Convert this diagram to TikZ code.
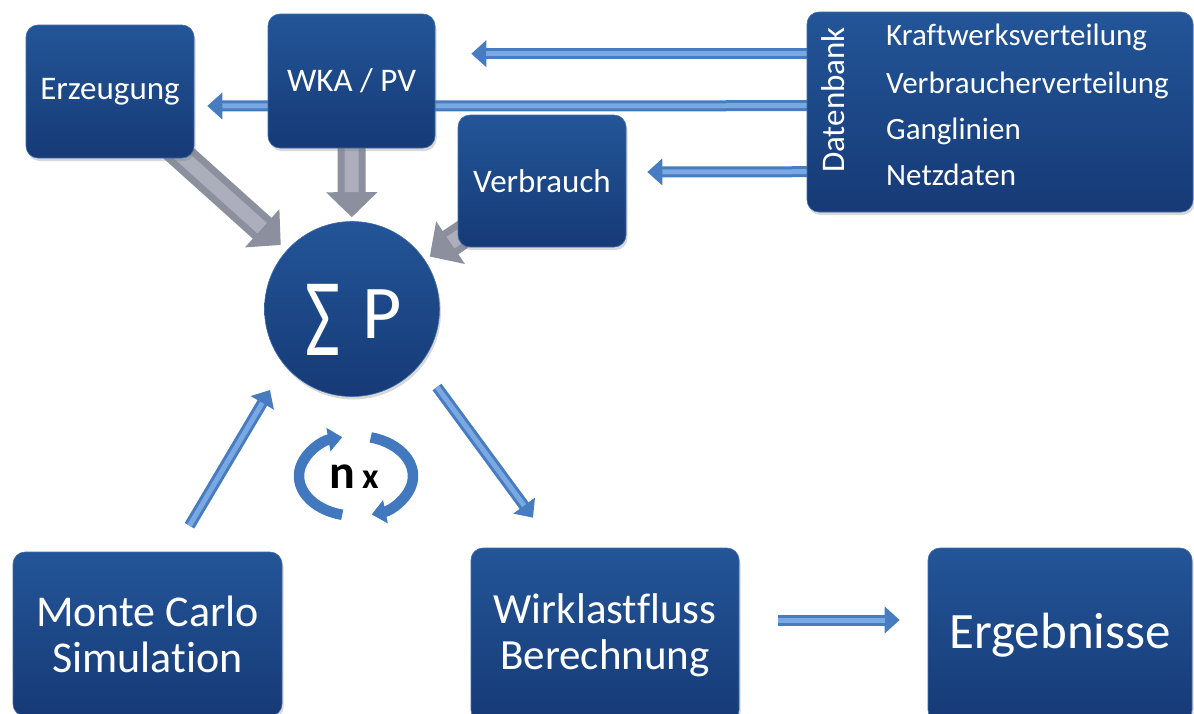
\documentclass[tikz,border=0pt]{standalone}
\usepackage{fontspec}
\setmainfont{Carlito}[Ligatures=NoCommon]
\usepackage{graphicx}
\usetikzlibrary{arrows.meta,calc,shadows}

\definecolor{boxtop}{RGB}{35,85,152}
\definecolor{boxbot}{RGB}{22,58,118}
\definecolor{boxedge}{RGB}{62,108,172}
\definecolor{arrblue}{RGB}{72,124,192}
\definecolor{arrhi}{RGB}{122,168,226}
\definecolor{arrgray}{RGB}{140,143,158}
\definecolor{grayhi}{RGB}{172,174,188}
\definecolor{loopblue}{RGB}{66,120,190}

\pgfdeclarelayer{back}
\pgfsetlayers{back,main}

\tikzset{
  panel/.style={rounded corners=12pt, top color=boxtop, bottom color=boxbot,
    draw=boxedge, line width=0.6pt, text=white, align=center, inner sep=0pt,
    drop shadow={shadow xshift=1.5pt, shadow yshift=-3pt, opacity=0.3}},
  hub/.style={circle, minimum size=175pt, top color=boxtop, bottom color=boxbot,
    draw=boxedge, line width=0.6pt, inner sep=0pt,
    drop shadow={shadow xshift=1.5pt, shadow yshift=-3pt, opacity=0.3}},
  bluearrow/.style={draw=arrblue, line width=11pt,
    -{Triangle[width=26pt,length=15pt]},
    postaction={draw=arrhi, line width=5pt, -, shorten >=15pt}},
  grayarrow/.style={draw=arrgray, line width=28pt, shorten >=#1,
    -{Triangle[width=50pt,length=25pt]},
    postaction={draw=grayhi, line width=14pt, -, shorten >=#1+25pt}},
  looparrow/.style={draw=loopblue, line width=10.5pt,
    -{Triangle[width=23pt,length=14pt]}},
  dbitem/.style={anchor=base west, text=white, inner sep=0pt,
    font=\fontsize{31}{37}\selectfont},
  boxfont/.style={font=\fontsize{33}{39}\selectfont},
}

\begin{document}
\begin{tikzpicture}[x=1pt,y=-1pt]
\useasboundingbox (0,0) rectangle (1194,713);

% boxes of the model
\node[panel, boxfont, minimum width=168pt, minimum height=133pt]
  (erz) at (110,91.5) {Erzeugung};
\node[panel, boxfont, minimum width=167pt, minimum height=134pt]
  (wka) at (351.5,81) {WKA / PV};
\node[panel, boxfont, minimum width=168pt, minimum height=132pt]
  (verb) at (542,181) {Verbrauch};
\node[panel, minimum width=386pt, minimum height=200pt] (db) at (1000,112) {};
\node[hub] (sum) at (352,309) {};
\node[panel, minimum width=269pt, minimum height=164pt,
      font=\fontsize{44}{46}\selectfont] (mc) at (147.5,634) {Monte Carlo\\Simulation};
\node[panel, minimum width=268pt, minimum height=174pt,
      font=\fontsize{43}{46}\selectfont] (wirk) at (605,635) {Wirklastfluss\\Berechnung};
\node[panel, minimum width=264pt, minimum height=174pt,
      font=\fontsize{51}{56}\selectfont] (erg) at (1060,635) {Ergebnisse};

% sum symbol
\node[anchor=base, text=white, inner sep=0pt, font=\fontsize{76}{80}\selectfont]
  (sumlabel) at ($(sum.center)+(1.5,29)$)
  {\raisebox{-17pt}{\scalebox{1}[1.46]{Σ}}\hspace{22pt}P};

% database contents
\node[rotate=90, text=white, inner sep=0pt, boxfont]
  (dblabel) at (833,100) {Datenbank};
\node[dbitem] (kw) at (886,45)  {Kraftwerksverteilung};
\node[dbitem] (vv) at (886,93)  {Verbraucherverteilung};
\node[dbitem] (gl) at (886,139) {Ganglinien};
\node[dbitem] (nd) at (886,185) {Netzdaten};

% iteration loop
\coordinate (loop) at (356,476);
\draw[looparrow] ($(loop)+(256:57pt and 40pt)$)
  arc[start angle=256, end angle=104, x radius=57pt, y radius=40pt];
\draw[looparrow] ($(loop)+(75:57pt and 40pt)$)
  arc[start angle=75, end angle=-74, x radius=57pt, y radius=40pt];
\node[anchor=base, inner sep=0pt, font=\bfseries] (nx) at ($(loop)+(-2,12)$)
  {\fontsize{48}{48}\selectfont n\hspace{7pt}\fontsize{36}{36}\selectfont x};

% connectors, kept behind the boxes
\begin{pgfonlayer}{back}
\fill[white] (0,0) rectangle (1194,713);
\draw[grayarrow=8pt] (erz.center) -- (sum);
\draw[grayarrow=4pt] (wka.center) -- (sum);
\draw[grayarrow=6pt] (verb.center) -- (sum);
\draw[bluearrow] ($(db.north west)+(10,42)$) -- ($(wka.north east)+(36,40)$);
\draw[bluearrow] ($(db.north west)+(10,94)$) -- ($(erz.east)+(13,14.5)$);
\draw[bluearrow] ($(db.north west)+(10,160)$) -- ($(verb.east)+(21,-9)$);
\draw[bluearrow] ($(mc.north)+(42,-26)$) -- ($(sum)+(-82,81)$);
\draw[bluearrow] ($(sum)+(85,78)$) -- ($(wirk.north)+(-72,-30)$);
\draw[bluearrow] ($(wirk.east)+(39,-15)$) -- ($(erg.west)+(-28,-15)$);
\end{pgfonlayer}
\end{tikzpicture}
\end{document}
